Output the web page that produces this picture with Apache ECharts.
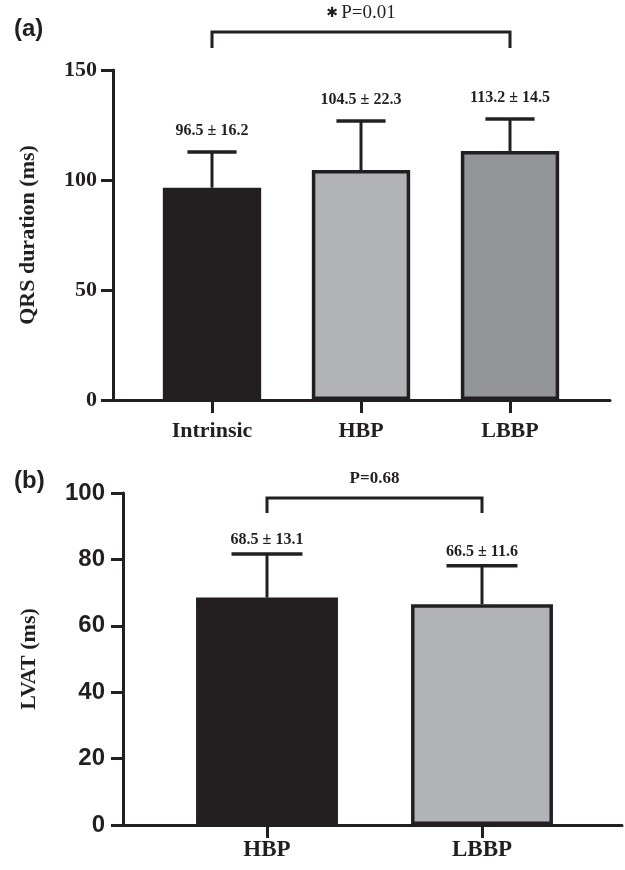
<!DOCTYPE html>
<html>
<head>
<meta charset="utf-8">
<style>
  html, body { margin: 0; padding: 0; background: #fff; }
  #chart { width: 625px; height: 870px; }
</style>
<script src="https://cdn.jsdelivr.net/npm/echarts@6.0.0/dist/echarts.min.js"></script>
</head>
<body>
<div id="chart"></div>
<script>
(function () {
  'use strict';

  // Panel (a): QRS duration
  var catsA = ['Intrinsic', 'HBP', 'LBBP'];
  var meanA = [96.5, 104.5, 113.2];
  var sdA = [16.2, 22.3, 14.5];
  var ticksA = [0, 150, 50]; // min, max, interval

  // Panel (b): LVAT
  var catsB = ['HBP', 'LBBP'];
  var meanB = [68.5, 66.5];
  var sdB = [13.1, 11.6];
  var ticksB = [0, 100, 20];

  var dark = '#231f20';
  var fillA = ['#231f20', '#b1b3b6', '#939598'];
  var fillB = ['#231f20', '#b1b3b6'];
  var serif = '"Liberation Serif", "DejaVu Serif", serif';
  var sans = '"Liberation Sans", Arial, sans-serif';

  var chart = echarts.init(document.getElementById('chart'));

  function barData(means, fills) {
    return means.map(function (m, i) {
      var black = fills[i] === dark;
      return {
        value: m,
        itemStyle: {
          color: fills[i],
          borderColor: dark,
          borderWidth: black ? 0 : 3.5
        }
      };
    });
  }

  // error bar (upper only) + "mean ± sd" text above the cap
  function errorSeries(axisIdx, means, sds, textGap, fontSize) {
    return {
      type: 'custom',
      xAxisIndex: axisIdx,
      yAxisIndex: axisIdx,
      z: 3,
      silent: true,
      data: means.map(function (m, i) { return [i, m, sds[i]]; }),
      renderItem: function (params, api) {
        var i = api.value(0), m = api.value(1), s = api.value(2);
        var base = api.coord([i, m]);
        var top = api.coord([i, m + s]);
        var half = api.size([1, 0])[0] * 0.165;
        return {
          type: 'group',
          children: [
            { type: 'line', shape: { x1: base[0], y1: base[1], x2: top[0], y2: top[1] },
              style: { stroke: dark, lineWidth: 3 } },
            { type: 'line', shape: { x1: top[0] - half, y1: top[1], x2: top[0] + half, y2: top[1] },
              style: { stroke: dark, lineWidth: 3.5 } },
            { type: 'text', x: top[0], y: top[1] - textGap,
              style: { text: m.toFixed(1) + ' \u00b1 ' + s.toFixed(1), align: 'center', verticalAlign: 'middle',
                       font: 'bold ' + fontSize + 'px ' + serif, fill: dark } }
          ]
        };
      }
    };
  }

  // significance bracket between two categories
  function bracketSeries(axisIdx, from, to, yLine, yDrop, textStyle) {
    return {
      type: 'custom',
      xAxisIndex: axisIdx,
      yAxisIndex: axisIdx,
      z: 3,
      silent: true,
      clip: false,
      data: [[from, to, yLine, yDrop]],
      renderItem: function (params, api) {
        var a = api.coord([api.value(0), api.value(2)]);
        var b = api.coord([api.value(1), api.value(2)]);
        var a2 = api.coord([api.value(0), api.value(3)]);
        return {
          type: 'group',
          children: [
            { type: 'polyline', shape: { points: [[a[0], a2[1]], a, b, [b[0], a2[1]]] },
              style: { stroke: dark, lineWidth: 3, fill: null } },
            { type: 'text', x: (a[0] + b[0]) / 2, y: a[1] - 19, style: textStyle }
          ]
        };
      }
    };
  }

  function valueAxisFor(grid, ticks) {
    return {
      gridIndex: grid, type: 'value', min: ticks[0], max: ticks[1], interval: ticks[2], show: false
    };
  }

  var option = {
    backgroundColor: '#fff',
    animation: false,
    graphic: [
      { type: 'text', left: 14, top: 17, style: { text: '(a)', font: 'bold 24px ' + sans, fill: dark } },
      { type: 'text', left: 14, top: 469, style: { text: '(b)', font: 'bold 24px ' + sans, fill: dark } }
    ],
    grid: [
      { left: 137.5, width: 447, top: 70, height: 330, containLabel: false, outerBoundsMode: 'none' },
      { left: 113, width: 497, top: 70, height: 330, containLabel: false, outerBoundsMode: 'none' },
      { left: 159.5, width: 430, top: 493, height: 332, containLabel: false, outerBoundsMode: 'none' },
      { left: 123, width: 499, top: 493, height: 332, containLabel: false, outerBoundsMode: 'none' }
    ],
    xAxis: [
      {
        gridIndex: 0, type: 'category', data: catsA,
        axisLine: { show: true, lineStyle: { color: dark, width: 3 } },
        axisTick: { show: true, alignWithLabel: true, length: 13, lineStyle: { color: dark, width: 3 } },
        axisLabel: { color: dark, fontFamily: serif, fontWeight: 'bold', fontSize: 22, margin: 20 },
        splitLine: { show: false }
      },
      {
        gridIndex: 1, type: 'value', min: 0, max: 1,
        axisLine: { show: true, lineStyle: { color: dark, width: 3 } },
        axisTick: { show: false }, axisLabel: { show: false }, splitLine: { show: false }
      },
      {
        gridIndex: 2, type: 'category', data: catsB,
        axisLine: { show: true, lineStyle: { color: dark, width: 3 } },
        axisTick: { show: true, alignWithLabel: true, length: 13, lineStyle: { color: dark, width: 3 } },
        axisLabel: { color: dark, fontFamily: serif, fontWeight: 'bold', fontSize: 23, margin: 14 },
        splitLine: { show: false }
      },
      {
        gridIndex: 3, type: 'value', min: 0, max: 1,
        axisLine: { show: true, lineStyle: { color: dark, width: 3 } },
        axisTick: { show: false }, axisLabel: { show: false }, splitLine: { show: false }
      }
    ],
    yAxis: [
      valueAxisFor(0, ticksA),
      {
        gridIndex: 1, type: 'value', min: ticksA[0], max: ticksA[1], interval: ticksA[2],
        name: 'QRS duration (ms)', nameLocation: 'middle', nameGap: 74,
        nameTextStyle: { color: dark, fontFamily: serif, fontWeight: 'bold', fontSize: 22 },
        axisLine: { show: true, lineStyle: { color: dark, width: 3 } },
        axisTick: { show: true, length: 12, lineStyle: { color: dark, width: 3 } },
        axisLabel: { color: dark, fontFamily: serif, fontWeight: 'bold', fontSize: 22, margin: 16 },
        splitLine: { show: false }
      },
      valueAxisFor(2, ticksB),
      {
        gridIndex: 3, type: 'value', min: ticksB[0], max: ticksB[1], interval: ticksB[2],
        name: 'LVAT (ms)', nameLocation: 'middle', nameGap: 83,
        nameTextStyle: { color: dark, fontFamily: serif, fontWeight: 'bold', fontSize: 22 },
        axisLine: { show: true, lineStyle: { color: dark, width: 3 } },
        axisTick: { show: true, length: 12, lineStyle: { color: dark, width: 3 } },
        axisLabel: { color: dark, fontFamily: sans, fontWeight: 'bold', fontSize: 24, margin: 18 },
        splitLine: { show: false }
      }
    ],
    series: [
      { type: 'bar', xAxisIndex: 0, yAxisIndex: 0, barWidth: '66%', data: barData(meanA, fillA), z: 2 },
      errorSeries(0, meanA, sdA, 21, 16),
      bracketSeries(0, 0, 2, 167.3, 160, {
        text: '{s|\u2731} {p|P=0.01}', align: 'center', verticalAlign: 'middle',
        rich: {
          s: { font: 'bold 14px "DejaVu Sans"', fill: dark },
          p: { font: '19px ' + serif, fill: dark }
        }
      }),
      { type: 'bar', xAxisIndex: 2, yAxisIndex: 2, barWidth: '66%', data: barData(meanB, fillB), z: 2 },
      errorSeries(2, meanB, sdB, 14, 16),
      bracketSeries(2, 0, 1, 98.5, 94, {
        text: 'P=0.68', align: 'center', verticalAlign: 'middle',
        font: 'bold 17px ' + serif, fill: dark
      })
    ]
  };

  chart.setOption(option);
})();
</script>
</body>
</html>
